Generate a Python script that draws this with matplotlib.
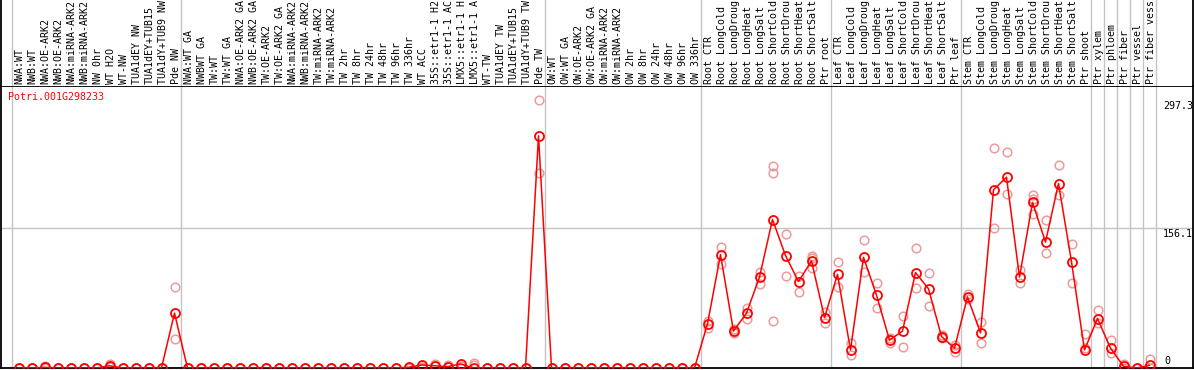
import matplotlib
matplotlib.use("Agg")
import matplotlib.pyplot as plt
import matplotlib.transforms as mtransforms

gene = "Potri.001G298233"

labels = [
    "NWA:WT", "NWB:WT", "NWA:OE-ARK2", "NWB:OE-ARK2", "NWA:miRNA-ARK2", "NWB:miRNA-ARK2",
    "NW 0hr", "WT H2O", "WT-NW", "TUA1dEY NW", "TUA1dEY+TUB15", "TUA1dY+TUB9 NW", "Pde NW",
    "NWA:WT GA", "NWBWT GA", "TW:WT", "TW:WT GA", "NWA:OE-ARK2 GA", "NWB:OE-ARK2 GA",
    "TW:OE-ARK2", "TW:OE-ARK2 GA", "NWA:miRNA-ARK2", "NWB:miRNA-ARK2", "TW:miRNA-ARK2",
    "TW:miRNA-ARK2", "TW 2hr", "TW 8hr", "TW 24hr", "TW 48hr", "TW 96hr", "TW 336hr",
    "WT ACC", "35S::etr1-1 H2", "35S::etr1-1 AC", "LMX5::etr1-1 H", "LMX5::etr1-1 A",
    "WT-TW", "TUA1dEY TW", "TUA1dEY+TUB15", "TUA1dY+TUB9 TW", "Pde TW",
    "OW:WT", "OW:WT GA", "OW:OE-ARK2", "OW:OE-ARK2 GA", "OW:miRNA-ARK2", "OW:miRNA-ARK2",
    "OW 2hr", "OW 8hr", "OW 24hr", "OW 48hr", "OW 96hr", "OW 336hr",
    "Root CTR", "Root LongCold", "Root LongDroug", "Root LongHeat", "Root LongSalt",
    "Root ShortCold", "Root ShortDrou", "Root ShortHeat", "Root ShortSalt", "Ptr root",
    "Leaf CTR", "Leaf LongCold", "Leaf LongDroug", "Leaf LongHeat", "Leaf LongSalt",
    "Leaf ShortCold", "Leaf ShortDrou", "Leaf ShortHeat", "Leaf ShortSalt", "Ptr leaf",
    "Stem CTR", "Stem LongCold", "Stem LongDroug", "Stem LongHeat", "Stem LongSalt",
    "Stem ShortCold", "Stem ShortDrou", "Stem ShortHeat", "Stem ShortSalt", "Ptr shoot",
    "Ptr xylem", "Ptr phloem", "Ptr fiber", "Ptr vessel", "Ptr fiber vess",
]

means = [
    0, 0, 0.8, 0, 0, 0, 0, 2.5, 0, 0, 0, 0, 61,
    0, 0, 0, 0, 0, 0, 0, 0, 0, 0, 0, 0, 0, 0, 0, 0, 0, 0.8,
    3.3, 2.5, 1.5, 4.5, 0, 0, 0, 0, 0, 258,
    0, 0, 0, 0, 0, 0, 0, 0, 0, 0, 0, 0,
    49, 126, 41, 61, 101, 165, 125, 96, 119, 56,
    104, 20, 123, 81, 31, 41, 106, 88, 35, 22,
    79, 39, 198, 212, 101, 184, 140, 205, 118, 20,
    55, 22, 2, 0, 3,
]

# replicate values (light circles); zeros where nothing stands out
reps = [[0, 0]] * 88
reps = list(reps)
reps[2] = [0, 2]
reps[7] = [1.5, 4]
reps[12] = [90, 32]
reps[31] = [0, 1.5]
reps[32] = [2, 4.5]
reps[33] = [1.5, 3.5]
reps[34] = [0.5, 2.5]
reps[35] = [3.5, 5.5]
reps[40] = [297.3, 217]
root_reps = [[52, 45], [135, 116], [43, 39], [67, 54], [107, 93],
             [225, 217, 52], [149, 102], [102, 84], [124, 111, 122], [50, 62]]
leaf_reps = [[118, 90], [28, 14], [142, 107], [94, 67], [33, 28],
             [58, 23], [133, 89], [106, 69], [37, 33], [26, 18]]
stem_reps = [[82, 77], [51, 28], [244, 156], [240, 193], [109, 94],
             [192, 188, 171], [165, 128], [226, 192], [138, 94], [38, 22]]
ptr_reps = [[65, 50], [31, 17], [4, 0], [0, 0], [10, 0]]
reps[53:63] = root_reps
reps[63:73] = leaf_reps
reps[73:83] = stem_reps
reps[83:88] = ptr_reps

# last index of each group (gray separators)
group_ends = [-1, 12, 40, 52, 62, 72, 82, 83, 84, 85, 86, 87]
ref_lines = [156.1]
y_marks = [297.3, 156.1, 0]

mono = "DejaVu Sans Mono"
fs = 7.2

fig = plt.figure(figsize=(11.94, 3.70), dpi=100)
W, H = 1194, 370
left, right = 1 / W, 1193 / W
bot, top = 2 / H, 284 / H
ax = fig.add_axes([left, bot, right - left, top - bot])
ax_lab = fig.add_axes([left, top, right - left, 1 - top])

xmin = (1 - 18.5) / 13
xmax = (1193 - 18.5) / 13
for a in (ax, ax_lab):
    a.set_xlim(xmin, xmax)
    a.set_xticks([])
    a.set_yticks([])
ax.set_ylim(0, 282 / 0.9)
ax_lab.set_ylim(0, 1)

for s in ax.spines.values():
    s.set_linewidth(1.3)
    s.set_color("black")
ax_lab.spines["top"].set_visible(False)
ax_lab.spines["bottom"].set_visible(False)
for s in ("left", "right"):
    ax_lab.spines[s].set_linewidth(1.3)

for k in group_ends:
    ax.axvline(k + 0.5, color="#c4c4c4", lw=1, zorder=0)
    ax_lab.axvline(k + 0.5, color="#c4c4c4", lw=1, zorder=0)
for v in ref_lines:
    ax.axhline(v, color="#c4c4c4", lw=1, zorder=0)

xs = list(range(len(labels)))
for i, r in enumerate(reps):
    ax.plot([i] * len(r), r, "o", ms=6.2, mfc="none", mec="#ee9999", mew=1.1, zorder=2)
ax.plot(xs, means, "-", color="red", lw=1.1, zorder=3)
ax.plot(xs, means, "o", ms=6.5, mfc="none", mec="red", mew=1.3, zorder=4)

lab_trans = mtransforms.blended_transform_factory(ax_lab.transData, ax_lab.transAxes)
for i, lab in enumerate(labels):
    ax_lab.text(i + 0.1, 2 / 86, lab, rotation=90, ha="center", va="bottom",
                family=mono, fontsize=fs, transform=lab_trans, clip_on=False)

ax.text(7 / 1192, 271 / 282, gene, color="red", family=mono, fontsize=fs,
        va="center", ha="left", transform=ax.transAxes)

ytr = mtransforms.blended_transform_factory(ax.transAxes, ax.transData)
for v in y_marks:
    if v == 0:
        ax.annotate("0", xy=(1163 / 1192, 0), xycoords=ytr, xytext=(0, 2),
                    textcoords="offset pixels", ha="left", va="bottom",
                    family=mono, fontsize=fs, annotation_clip=False)
    else:
        ax.annotate(f"{v:.1f}", xy=(1162 / 1192, v), xycoords=ytr, xytext=(0, -1),
                    textcoords="offset pixels", ha="left", va="top",
                    family=mono, fontsize=fs, annotation_clip=False)

fig.savefig("out.png", dpi=100)
